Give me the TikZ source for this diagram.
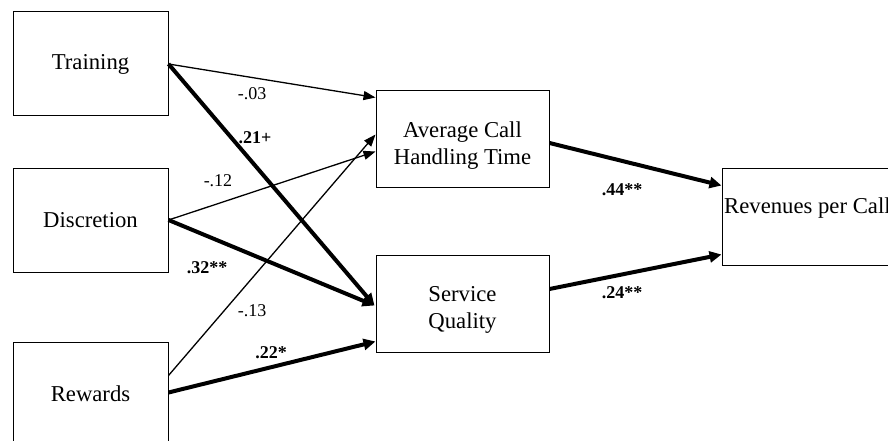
\documentclass[tikz,border=0pt]{standalone}
\usepackage{fontspec}
\setmainfont{Liberation Serif}
\usetikzlibrary{arrows.meta,calc}
\begin{document}
\begin{tikzpicture}[x=1pt,y=-1pt,
  box/.style={draw,line width=1pt,inner sep=0pt,font=\fontsize{22.7}{27}\selectfont,align=center},
  boxtext/.style={inner sep=0pt,font=\fontsize{22.7}{27}\selectfont,align=center},
  lab/.style={inner sep=0pt,font=\fontsize{18}{20}\selectfont},
  blab/.style={inner sep=0pt,font=\fontsize{18}{20}\selectfont\bfseries},
  thin/.style={line width=1.3pt,-{Triangle[length=12pt,width=9pt]}},
  thick/.style={line width=4pt,-{Triangle[length=12pt,width=11pt]}}]
\useasboundingbox (0,0) rectangle (888,441);
\fill[white] (0,0) rectangle (888,441);
% boxes
\node[box,minimum width=155pt,minimum height=104pt] (train) at (90.5,64) {Training};
\node[box,minimum width=155pt,minimum height=104pt] (disc) at (90.5,220) {Discretion};
\node[box,minimum width=155pt,minimum height=104pt] (rew) at (90.5,394) {Rewards};
\node[box,minimum width=173pt,minimum height=96pt] (avg) at (462.5,139) {};
\node[boxtext] (avgtext) at (462.5,146) {Average Call\\Handling Time};
\node[box,minimum width=173pt,minimum height=97pt] (sq) at (462.5,303.5) {};
\node[boxtext] (sqtext) at (462.5,310) {Service\\Quality};
\node[box,minimum width=200pt,minimum height=97pt] (rev) at (822,216.5) {};
\node[boxtext,anchor=west] (revtext) at (724,208) {Revenues per Call};
% connectors
\draw[thin] (train.east) -- ($(avg.north west)+(0,7)$);
\draw[thin] (disc.east) -- ($(avg.north west)+(0,61)$);
\draw[thin] ($(rew.north east)+(0,34)$) -- ($(avg.north west)+(0,44)$);
\draw[thick] (train.east) -- ($(sq.north west)+(-1,51)$);
\draw[thick] (disc.east) -- ($(sq.north west)+(-1,51)$);
\draw[thick] ($(rew.north east)+(0,51)$) -- ($(sq.north west)+(0,87)$);
\draw[thick] ($(avg.east)+(0,4)$) -- ($(rev.north west)+(0,18)$);
\draw[thick] ($(sq.east)+(0,-14.5)$) -- ($(rev.north west)+(0,87)$);
% labels
\node[lab] (l1) at (252,94) {-.03};
\node[blab] (l2) at (255,138) {.21+};
\node[lab] (l3) at (218,181) {-.12};
\node[blab] (l4) at (207,268) {.32**};
\node[lab] (l5) at (252,311) {-.13};
\node[blab] (l6) at (271,353) {.22*};
\node[blab] (l7) at (622,190) {.44**};
\node[blab] (l8) at (622,293) {.24**};
\end{tikzpicture}
\end{document}
